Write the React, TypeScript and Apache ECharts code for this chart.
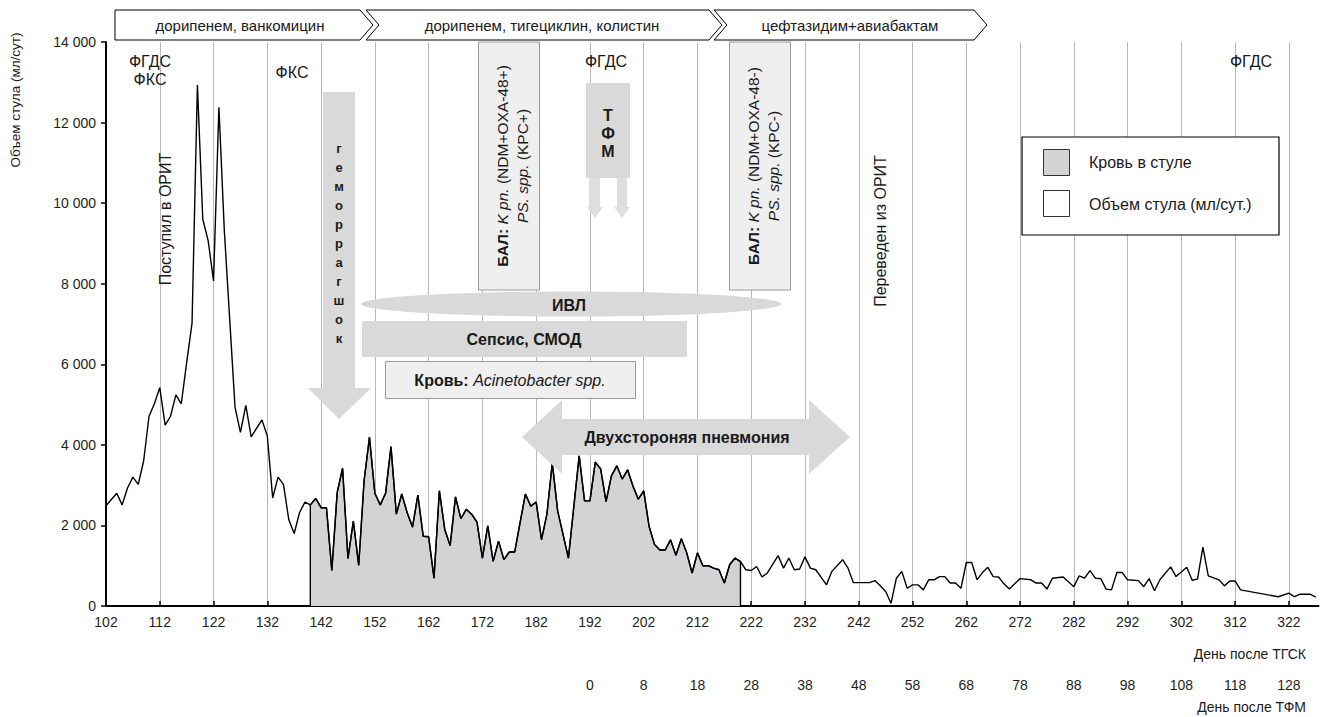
import React, { useEffect, useRef } from "react";
import * as echarts from "echarts";

const FONT = '"Liberation Sans", Arial, Helvetica, sans-serif';

// Stool volume (ml/day) by day after HSCT
const stoolDays = [
  102, 104, 105, 106, 107, 108, 109, 110, 111, 112, 113, 114, 115, 116, 117, 118, 119, 120, 121, 122,
  123, 124, 126, 127, 128, 129, 131, 132, 133, 134, 135, 136, 137, 138, 139, 140, 141, 142, 143, 144,
  145, 146, 147, 148, 149, 150, 151, 152, 153, 154, 155, 156, 157, 158, 159, 160, 161, 162, 163, 164,
  165, 166, 167, 168, 169, 170, 171, 172, 173, 174, 175, 176, 177, 178, 180, 181, 182, 183, 184, 185,
  186, 188, 190, 191, 192, 193, 194, 195, 196, 197, 198, 199, 200, 201, 202, 203, 204, 205, 206, 207,
  208, 209, 210, 211, 212, 213, 214, 215, 216, 217, 218, 219, 220, 221, 222, 223, 224, 225, 227, 228,
  229, 230, 231, 232, 233, 234, 236, 237, 239, 240, 241, 244, 245, 246, 247, 248, 249, 250, 251, 252,
  253, 254, 255, 256, 257, 258, 259, 260, 261, 262, 263, 264, 265, 266, 267, 268, 269, 270, 271, 272,
  274, 275, 276, 277, 278, 280, 282, 283, 284, 285, 286, 287, 288, 289, 290, 291, 292, 294, 295, 296,
  297, 298, 300, 301, 303, 304, 305, 306, 307, 309, 310, 311, 312, 313, 320, 322, 323, 324, 326, 327,
];
const stoolValues = [
  2490, 2800, 2510, 2930, 3200, 3020, 3600, 4710, 5020, 5420, 4490, 4710, 5240, 5020, 6040, 7020, 12930, 9600, 9070, 8070,
  12380, 9330, 4930, 4310, 4980, 4200, 4620, 4220, 2680, 3200, 3020, 2140, 1800, 2320, 2580, 2510, 2670, 2440, 2440, 880,
  2820, 3420, 1180, 2110, 1010, 3110, 4190, 2800, 2510, 2800, 3960, 2280, 2780, 2320, 1960, 2750, 1730, 1720, 690, 2860,
  1900, 1500, 2710, 2170, 2400, 2280, 2080, 1190, 1990, 1110, 1610, 1150, 1340, 1340, 2780, 2480, 2580, 1650, 2280, 3550,
  2360, 1190, 3730, 2610, 2610, 3570, 3400, 2590, 3230, 3480, 3150, 3380, 2980, 2650, 2860, 1980, 1530, 1390, 1390, 1640,
  1260, 1670, 1320, 820, 1320, 1000, 1000, 940, 900, 570, 1030, 1190, 1100, 900, 880, 980, 720, 820, 1250, 940,
  1190, 900, 920, 1220, 940, 900, 525, 860, 1150, 940, 580, 580, 630, 500, 360, 70, 690, 860, 440, 525,
  525, 400, 650, 650, 730, 730, 570, 570, 440, 1080, 1080, 650, 830, 960, 730, 720, 550, 420, 550, 680,
  650, 570, 570, 420, 690, 720, 480, 750, 690, 880, 690, 680, 420, 400, 830, 830, 650, 630, 480, 680,
  380, 650, 970, 730, 960, 640, 670, 1460, 750, 650, 500, 620, 620, 400, 230, 320, 230, 290, 290, 220,
];
// Days with blood in stool
const bloodRange = [140, 220];

const tgskTicks = [102, 112, 122, 132, 142, 152, 162, 172, 182, 192, 202, 212, 222, 232, 242, 252, 262, 272, 282, 292, 302, 312, 322];
const tfmTickDays = [192, 202, 212, 222, 232, 242, 252, 262, 272, 282, 292, 302, 312, 322];
const tfmLabels = ["0", "8", "18", "28", "38", "48", "58", "68", "78", "88", "98", "108", "118", "128"];

const therapy = ["дорипенем, ванкомицин", "дорипенем, тигециклин, колистин", "цефтазидим+авиабактам"];

const TXT = "#1a1a1a";
const GREY = "#d9d9d9";
const LIGHT = "#efefef";

function txt(x: number, y: number, text: string, extra: any = {}, rot = 0) {
  return {
    type: "text",
    x,
    y,
    rotation: rot,
    z: 20,
    style: {
      text,
      fill: TXT,
      fontSize: 16,
      fontFamily: FONT,
      align: "center",
      verticalAlign: "middle",
      ...extra,
    },
  };
}

function buildGraphics() {
  const g: any[] = [];
  // therapy chevrons
  const chevrons = [
    { pts: [[115, 10], [360, 10], [373, 25], [360, 40], [115, 40]], cx: 240 },
    { pts: [[366, 10], [709, 10], [722, 25], [709, 40], [366, 40], [379, 25]], cx: 542 },
    { pts: [[714, 10], [974, 10], [987, 25], [974, 40], [714, 40], [727, 25]], cx: 850 },
  ];
  chevrons.forEach((c, i) => {
    g.push({ type: "polygon", z: 15, shape: { points: c.pts }, style: { fill: "#fff", stroke: "#000", lineWidth: 1 } });
    g.push(txt(c.cx, 25, therapy[i], { fontSize: 15 }));
  });
  // y-axis title
  g.push(txt(15, 100, "Объем стула (мл/сут)", { fontSize: 13.5 }, Math.PI / 2));
  // procedures
  g.push(txt(150, 61, "ФГДС"));
  g.push(txt(150, 79, "ФКС"));
  g.push(txt(292, 72, "ФКС"));
  g.push(txt(606, 61, "ФГДС"));
  g.push(txt(1251, 61, "ФГДС"));
  g.push(txt(165, 219, "Поступил в ОРИТ", {}, Math.PI / 2));
  g.push(txt(880, 231, "Переведен из ОРИТ", {}, Math.PI / 2));
  // hemorrhagic shock arrow
  g.push({
    type: "polygon", z: 12,
    shape: { points: [[323, 92], [355, 92], [355, 388], [371, 388], [339, 419], [308, 388], [323, 388]] },
    style: { fill: GREY },
  });
  g.push(txt(339, 243, "г\nе\nм\nо\nр\nр\nа\nг\nш\nо\nк", { fontSize: 13, fontWeight: "bold", lineHeight: 19 }));
  // BAL boxes
  const balBoxes = [
    { x: 478.5, cx: 512, sign: "+", kpc: "+" },
    { x: 729.5, cx: 763, sign: "-", kpc: "-" },
  ];
  balBoxes.forEach((b) => {
    g.push({ type: "rect", z: 12, shape: { x: b.x, y: 42, width: 61, height: 248 }, style: { fill: LIGHT, stroke: "#9a9a9a", lineWidth: 1 } });
    g.push({
      type: "text", x: b.cx, y: 166, rotation: Math.PI / 2, z: 20,
      style: {
        text: `{b|БАЛ:} {i|K pn.} (NDM+OXA-48${b.sign})\n{i|PS. spp.} (KPC${b.kpc})`,
        fill: TXT, fontSize: 15.5, fontFamily: FONT, lineHeight: 20, align: "center", verticalAlign: "middle",
        rich: {
          b: { fontWeight: "bold", fontSize: 15.5, fontFamily: FONT, lineHeight: 20, fill: TXT },
          i: { fontStyle: "italic", fontSize: 15.5, fontFamily: FONT, lineHeight: 20, fill: TXT },
        },
      },
    });
  });
  // TFM box and arrows
  g.push({ type: "rect", z: 12, shape: { x: 586, y: 83, width: 44, height: 95 }, style: { fill: GREY } });
  g.push(txt(608, 133, "Т\nФ\nМ", { fontWeight: "bold", lineHeight: 18 }));
  g.push({ type: "polygon", z: 12, shape: { points: [[589, 178], [600, 178], [600, 207], [603, 207], [595, 218], [587, 207], [589, 207]] }, style: { fill: "#dedede" } });
  g.push({ type: "polygon", z: 12, shape: { points: [[617, 178], [627, 178], [627, 207], [630, 207], [622, 218], [614, 207], [617, 207]] }, style: { fill: "#dedede" } });
  // ventilation
  g.push({ type: "ellipse", z: 12, shape: { cx: 571, cy: 304, rx: 210, ry: 12.5 }, style: { fill: GREY } });
  g.push(txt(569, 305, "ИВЛ", { fontWeight: "bold" }));
  // sepsis
  g.push({ type: "rect", z: 12, shape: { x: 362, y: 321, width: 325, height: 36 }, style: { fill: GREY } });
  g.push(txt(524, 339, "Сепсис, СМОД", { fontWeight: "bold" }));
  // blood culture
  g.push({ type: "rect", z: 12, shape: { x: 385.5, y: 361.5, width: 250, height: 37 }, style: { fill: LIGHT, stroke: "#9a9a9a", lineWidth: 1 } });
  g.push({
    type: "text", x: 510, y: 380, z: 20,
    style: {
      text: "{b|Кровь:} {i|Acinetobacter spp.}", fill: TXT, fontSize: 16, fontFamily: FONT, align: "center", verticalAlign: "middle",
      rich: {
        b: { fontWeight: "bold", fontSize: 16, fontFamily: FONT, fill: TXT },
        i: { fontStyle: "italic", fontSize: 16, fontFamily: FONT, fill: TXT },
      },
    },
  });
  // pneumonia double arrow
  g.push({
    type: "polygon", z: 12,
    shape: { points: [[522, 437], [562, 400], [562, 419], [809, 419], [809, 400], [850, 437], [809, 474], [809, 455], [562, 455], [562, 474]] },
    style: { fill: GREY },
  });
  g.push(txt(687, 437, "Двухстороняя пневмония", { fontWeight: "bold" }));
  // legend
  g.push({ type: "rect", z: 15, shape: { x: 1022, y: 137, width: 257, height: 98 }, style: { fill: "#fff", stroke: "#000", lineWidth: 1.2 } });
  g.push({ type: "rect", z: 16, shape: { x: 1043.5, y: 149.5, width: 26, height: 26 }, style: { fill: "#d3d3d5", stroke: "#333", lineWidth: 1 } });
  g.push({ type: "rect", z: 16, shape: { x: 1043.5, y: 190.5, width: 26, height: 26 }, style: { fill: "#fff", stroke: "#333", lineWidth: 1 } });
  g.push(txt(1089, 162, "Кровь в стуле", { align: "left" }));
  g.push(txt(1089, 204, "Объем стула (мл/сут.)", { align: "left" }));
  // axis titles
  g.push(txt(1306, 654, "День после ТГСК", { align: "right", fontSize: 14 }));
  g.push(txt(1306, 707, "День после ТФМ", { align: "right", fontSize: 14 }));
  return g;
}

export default function App() {
  const ref = useRef<HTMLDivElement>(null);
  useEffect(() => {
    const chart = echarts.init(ref.current!, null, { renderer: "svg" });
    const stoolData = stoolDays.map((d, i) => [d, stoolValues[i]]);
    const bloodData = [
      [bloodRange[0], 0],
      ...stoolData.filter((p) => p[0] >= bloodRange[0] && p[0] <= bloodRange[1]),
      [bloodRange[1], 0],
    ];
    const fmt = (v: number) => String(v).replace(/\B(?=(\d{3})+(?!\d))/g, " ");
    chart.setOption({
      animation: false,
      backgroundColor: "#fff",
      textStyle: { fontFamily: FONT },
      grid: { left: 106, right: 4.5, top: 42, bottom: 111, containLabel: false },
      xAxis: [
        {
          type: "value", min: 102, max: 327.5, position: "bottom",
          axisLine: { show: true, lineStyle: { color: "#000", width: 2 } },
          axisTick: { show: true, inside: true, length: 5, customValues: tgskTicks, lineStyle: { color: "#000", width: 1.5 } },
          axisLabel: { customValues: tgskTicks, color: "#231f20", fontSize: 14, fontFamily: FONT, margin: 9 },
          splitLine: { show: true, lineStyle: { color: "#b8b8b8", width: 1 } },
        },
        {
          type: "value", min: 102, max: 327.5, position: "bottom", offset: 63,
          axisLine: { show: false },
          axisTick: { show: false, customValues: tfmTickDays },
          axisLabel: {
            customValues: tfmTickDays, color: "#231f20", fontSize: 14, fontFamily: FONT, margin: 9,
            formatter: (v: number) => tfmLabels[tfmTickDays.indexOf(v)] ?? "",
          },
          splitLine: { show: false },
        },
      ],
      yAxis: {
        type: "value", min: 0, max: 14000, interval: 2000,
        axisLine: { show: true, lineStyle: { color: "#000", width: 2 } },
        axisTick: { show: true, length: 5, lineStyle: { color: "#000", width: 1.5 } },
        axisLabel: { color: "#231f20", fontSize: 14, fontFamily: FONT, margin: 10, formatter: fmt },
        splitLine: { show: false },
      },
      series: [
        {
          type: "line", name: "Кровь в стуле", data: bloodData, symbol: "none", z: 2,
          lineStyle: { color: "#000", width: 1.4 }, areaStyle: { color: "#d3d3d5", opacity: 1 },
        },
        {
          type: "line", name: "Объем стула (мл/сут.)", data: stoolData, symbol: "none", z: 3,
          lineStyle: { color: "#000", width: 1.4 },
        },
      ],
      graphic: buildGraphics(),
    });
    return () => chart.dispose();
  }, []);
  return <div ref={ref} style={{ position: "fixed", left: 0, top: 0, width: 1323, height: 717 }} />;
}
